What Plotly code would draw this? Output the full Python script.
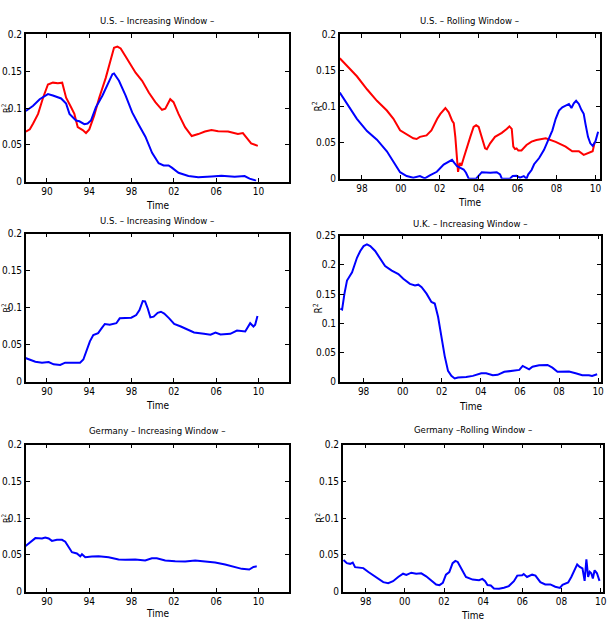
import plotly.graph_objects as go

# ---------------- data ----------------
# Panel 1: U.S. - Increasing Window - (two series)
us_inc_blue_t = [1988.0, 1988.69, 1989.31, 1990.09, 1990.56, 1991.34, 1991.81, 1992.13, 1992.75, 1993.06,
                 1993.53, 1993.84, 1994.16, 1994.63, 1995.25, 1995.88, 1996.19, 1996.34, 1996.81, 1997.44,
                 1998.06, 1998.69, 1999.31, 1999.94, 2000.56, 2001.03, 2001.5, 2001.81, 2002.44, 2003.38,
                 2004.31, 2005.56, 2006.5, 2007.75, 2008.69, 2009.16, 2009.78]
us_inc_blue_v = [0.096, 0.103, 0.112, 0.119, 0.117, 0.113, 0.106, 0.092, 0.083, 0.082,
                 0.078, 0.079, 0.083, 0.101, 0.117, 0.135, 0.146, 0.147, 0.137, 0.117,
                 0.094, 0.077, 0.061, 0.039, 0.025, 0.022, 0.022, 0.019, 0.012, 0.0076,
                 0.006, 0.0071, 0.008, 0.0067, 0.0076, 0.004, 0.0013]
us_inc_red_t = [1988.0, 1988.38, 1988.69, 1989.16, 1989.63, 1990.09, 1990.56, 1991.03, 1991.44, 1991.81,
                1992.28, 1992.59, 1992.91, 1993.38, 1993.69, 1994.0, 1994.47, 1994.94, 1995.56, 1996.03,
                1996.34, 1996.66, 1996.97, 1997.44, 1997.91, 1998.38, 1999.0, 1999.63, 2000.25, 2000.88,
                2001.19, 2001.5, 2001.66, 2001.97, 2002.44, 2003.06, 2003.69, 2004.31, 2004.94, 2005.56,
                2006.19, 2007.13, 2008.06, 2008.53, 2008.84, 2009.31, 2009.94]
us_inc_red_v = [0.068, 0.071, 0.079, 0.092, 0.114, 0.132, 0.1345, 0.1336, 0.1345, 0.114,
                0.101, 0.092, 0.074, 0.070, 0.066, 0.071, 0.090, 0.114, 0.141, 0.168,
                0.182, 0.1835, 0.181, 0.170, 0.159, 0.148, 0.137, 0.121, 0.108, 0.0976,
                0.099, 0.108, 0.112, 0.108, 0.092, 0.074, 0.062, 0.0646, 0.068, 0.070,
                0.0686, 0.068, 0.0646, 0.066, 0.061, 0.052, 0.0486]

# Panel 2: U.S. - Rolling Window - (two series)
us_roll_red_t = [1996.86, 1997.23, 1997.74, 1998.26, 1998.77, 1999.28, 1999.62, 1999.96, 2000.3, 2000.64,
                 2000.81, 2000.98, 2001.32, 2001.57, 2001.87, 2002.03, 2002.29, 2002.46, 2002.63, 2002.72,
                 2002.8, 2002.89, 2002.94, 2003.03, 2003.11, 2003.23, 2003.4, 2003.57, 2003.74, 2003.87,
                 2004.0, 2004.16, 2004.33, 2004.42, 2004.59, 2004.84, 2005.19, 2005.44, 2005.58, 2005.7,
                 2005.78, 2005.87, 2005.95, 2006.04, 2006.2, 2006.46, 2006.72, 2006.97, 2007.45, 2007.96,
                 2008.47, 2008.81, 2009.15, 2009.4, 2009.66, 2009.86, 2009.97]
us_roll_red_v = [0.167, 0.156, 0.142, 0.124, 0.108, 0.0945, 0.083, 0.067, 0.062, 0.056,
                 0.055, 0.058, 0.060, 0.067, 0.083, 0.0898, 0.098, 0.092, 0.0807, 0.077,
                 0.058, 0.026, 0.0095, 0.0218, 0.018, 0.0286, 0.0445, 0.058, 0.0717, 0.074,
                 0.0717, 0.0558, 0.042, 0.0408, 0.049, 0.058, 0.0635, 0.069, 0.0725, 0.069,
                 0.0445, 0.041, 0.042, 0.039, 0.039, 0.0467, 0.0513, 0.0535, 0.056, 0.051,
                 0.0445, 0.038, 0.038, 0.033, 0.0355, 0.038, 0.051]
us_roll_blue_t = [1996.86, 1997.23, 1997.74, 1998.26, 1998.77, 1999.28, 1999.62, 1999.96, 2000.3, 2000.64,
                  2000.98, 2001.23, 2001.49, 2001.85, 2002.2, 2002.46, 2002.63, 2002.75, 2002.89, 2003.06,
                  2003.23, 2003.35, 2003.49, 2003.87, 2004.05, 2004.16, 2004.6, 2004.93, 2005.1, 2005.19,
                  2005.6, 2005.75, 2005.95, 2006.12, 2006.32, 2006.46, 2006.55, 2006.72, 2006.85, 2007.11,
                  2007.36, 2007.62, 2007.79, 2007.96, 2008.13, 2008.3, 2008.47, 2008.64, 2008.77, 2008.89,
                  2009.01, 2009.15, 2009.28, 2009.4, 2009.49, 2009.62, 2009.74, 2009.86, 2010.0, 2010.14]
us_roll_blue_v = [0.1195, 0.104, 0.083, 0.066, 0.054, 0.038, 0.024, 0.009, 0.0036, 0.0014,
                  0.0036, 0.0005, 0.0045, 0.0095, 0.0195, 0.024, 0.026, 0.0218, 0.0172, 0.015,
                  0.0127, 0.0082, 0.0, 0.0, 0.006, 0.009, 0.0082, 0.009, 0.006, 0.0,
                  0.0, 0.0036, 0.004, 0.0014, 0.0036, 0.0, 0.006, 0.012, 0.020, 0.0286,
                  0.040, 0.056, 0.067, 0.083, 0.0945, 0.099, 0.101, 0.1036, 0.098, 0.1045,
                  0.108, 0.1036, 0.0955, 0.090, 0.076, 0.058, 0.049, 0.0455, 0.0514, 0.065]

# Panel 3: U.S. - Increasing Window - (one series)
us_inc2_t = [1987.9, 1988.44, 1988.9, 1989.53, 1990.16, 1990.63, 1991.25, 1991.72, 1992.34, 1993.13,
             1993.44, 1993.75, 1994.06, 1994.38, 1994.84, 1995.16, 1995.47, 1995.94, 1996.56, 1996.88,
             1997.34, 1997.97, 1998.44, 1998.75, 1999.06, 1999.28, 1999.53, 1999.78, 2000.09, 2000.47,
             2000.78, 2001.09, 2001.56, 2002.03, 2002.66, 2003.28, 2003.91, 2004.84, 2005.47, 2005.94,
             2006.41, 2007.34, 2007.97, 2008.75, 2009.22, 2009.53, 2009.69, 2009.91]
us_inc2_v = [0.0324, 0.030, 0.027, 0.0257, 0.0266, 0.0235, 0.0226, 0.0257, 0.0257, 0.0257,
             0.030, 0.041, 0.0545, 0.063, 0.0656, 0.072, 0.078, 0.077, 0.079, 0.0856,
             0.0856, 0.0865, 0.090, 0.0967, 0.109, 0.1086, 0.0989, 0.0869, 0.0878, 0.093,
             0.0945, 0.092, 0.0856, 0.078, 0.0745, 0.070, 0.0665, 0.0647, 0.0634, 0.0665,
             0.0638, 0.0647, 0.069, 0.0678, 0.079, 0.0745, 0.077, 0.0887]

# Panel 4: U.K. - Increasing Window -
uk_inc_t = [1996.81, 1996.9, 1997.02, 1997.15, 1997.41, 1997.66, 1997.83, 1998.0, 1998.17, 1998.34,
            1998.59, 1998.85, 1999.1, 1999.44, 1999.78, 2000.03, 2000.37, 2000.63, 2000.8, 2000.97,
            2001.22, 2001.47, 2001.64, 2001.81, 2001.98, 2002.15, 2002.32, 2002.49, 2002.66, 2002.83,
            2003.25, 2003.59, 2004.02, 2004.27, 2004.61, 2004.86, 2005.2, 2005.63, 2005.97, 2006.14,
            2006.31, 2006.47, 2006.64, 2006.98, 2007.41, 2007.66, 2007.92, 2008.34, 2008.51, 2008.85,
            2009.19, 2009.53, 2009.69, 2009.95]
uk_inc_v = [0.125, 0.1236, 0.1506, 0.173, 0.187, 0.212, 0.2236, 0.232, 0.2348, 0.232,
            0.2236, 0.2095, 0.198, 0.190, 0.184, 0.176, 0.1674, 0.1646, 0.166, 0.1618,
            0.1506, 0.1365, 0.1337, 0.111, 0.0775, 0.0438, 0.0185, 0.010, 0.0056, 0.0073,
            0.0079, 0.010, 0.0146, 0.0146, 0.0112, 0.0118, 0.0169, 0.0185, 0.0202, 0.027,
            0.024, 0.0213, 0.0258, 0.028, 0.0287, 0.024, 0.0169, 0.0169, 0.0174, 0.0146,
            0.0112, 0.0112, 0.010, 0.0129]

# Panel 5: Germany - Increasing Window -
de_inc_t = [1987.89, 1988.43, 1988.9, 1989.53, 1989.84, 1990.16, 1990.47, 1990.94, 1991.42, 1991.73,
            1992.05, 1992.36, 1992.83, 1993.15, 1993.31, 1993.62, 1994.25, 1994.88, 1995.83, 1996.77,
            1997.4, 1998.35, 1999.29, 1999.92, 2000.39, 2001.18, 2002.13, 2003.07, 2004.02, 2004.96,
            2005.91, 2006.85, 2007.64, 2008.43, 2009.13, 2009.53, 2009.84]
de_inc_v = [0.061, 0.067, 0.0728, 0.0723, 0.0737, 0.0723, 0.069, 0.0705, 0.0705, 0.0679,
            0.060, 0.0536, 0.052, 0.048, 0.051, 0.0469, 0.0478, 0.048, 0.0469, 0.0437,
            0.0433, 0.0437, 0.0424, 0.0455, 0.0455, 0.0424, 0.0415, 0.041, 0.0424, 0.0415,
            0.0397, 0.037, 0.0335, 0.031, 0.030, 0.0335, 0.0344]

# Panel 6: Germany - Rolling Window -
de_roll_t = [1996.87, 1997.04, 1997.21, 1997.34, 1997.46, 1997.71, 1997.88, 1998.14, 1998.39, 1998.64,
             1998.9, 1999.15, 1999.4, 1999.66, 1999.91, 2000.08, 2000.33, 2000.58, 2000.84, 2001.09,
             2001.34, 2001.6, 2001.77, 2001.94, 2002.1, 2002.27, 2002.44, 2002.58, 2002.7, 2002.86,
             2003.12, 2003.46, 2003.79, 2003.96, 2004.1, 2004.22, 2004.39, 2004.55, 2004.81, 2005.06,
             2005.31, 2005.57, 2005.74, 2005.99, 2006.07, 2006.24, 2006.5, 2006.67, 2006.92, 2007.17,
             2007.43, 2007.68, 2007.92, 2008.05, 2008.34, 2008.5, 2008.68, 2008.8, 2008.93, 2009.07,
             2009.18, 2009.27, 2009.36, 2009.44, 2009.52, 2009.6, 2009.69, 2009.81, 2009.94]
de_roll_v = [0.0431, 0.0387, 0.0378, 0.0396, 0.0333, 0.0329, 0.032, 0.0267, 0.0222, 0.0173,
             0.0129, 0.0116, 0.0142, 0.020, 0.0244, 0.0227, 0.0258, 0.0244, 0.0249, 0.0209,
             0.0156, 0.0098, 0.0089, 0.012, 0.0231, 0.0267, 0.0387, 0.0418, 0.0404, 0.032,
             0.020, 0.0164, 0.0156, 0.0173, 0.0142, 0.0089, 0.0084, 0.0044, 0.004, 0.0053,
             0.0076, 0.0142, 0.0218, 0.0222, 0.024, 0.020, 0.0231, 0.0218, 0.0129, 0.0098,
             0.0098, 0.0067, 0.005, 0.0093, 0.0124, 0.020, 0.0316, 0.037, 0.0337, 0.0316,
             0.0147, 0.044, 0.020, 0.027, 0.025, 0.018, 0.029, 0.025, 0.0147]

# tick definitions
left_xticks = [1990, 1994, 1998, 2002, 2006, 2010]
left_xlabels = ["90", "94", "98", "02", "06", "10"]
right_xticks = [1998, 2000, 2002, 2004, 2006, 2008, 2010]
right_xlabels = ["98", "00", "02", "04", "06", "08", "10"]
yticks_02 = [0, 0.05, 0.1, 0.15, 0.2]
ylabels_02 = ["0", "0.05", "0.1", "0.15", "0.2"]
yticks_025 = [0, 0.05, 0.1, 0.15, 0.2, 0.25]
ylabels_025 = ["0", "0.05", "0.1", "0.15", "0.2", "0.25"]

titles = ["U.S. \u2013 Increasing Window \u2013", "U.S. \u2013 Rolling Window \u2013",
          "U.S. \u2013 Increasing Window \u2013", "U.K. \u2013 Increasing Window \u2013",
          "Germany \u2013 Increasing Window \u2013", "Germany \u2013Rolling Window \u2013"]

# ---------------- layout geometry (pixels) ----------------
W, H = 612, 632
FONT = "DejaVu Sans Condensed, Liberation Sans, Arial, sans-serif"
BLUE = "#0000ff"
RED = "#ff0000"

panels = [
    dict(box=(26, 291, 29, 179), xr=(1988.0, 2012.9), yr=(0, 0.2), xt=(left_xticks, left_xlabels),
         yt=(yticks_02, ylabels_02), title_y=15, time_y=203, r2_x=6, r2_size=9,
         series=[(us_inc_red_t, us_inc_red_v, RED), (us_inc_blue_t, us_inc_blue_v, BLUE)]),
    dict(box=(342, 604, 29, 176), xr=(1996.86, 2010.24), yr=(0, 0.2), xt=(right_xticks, right_xlabels),
         yt=(yticks_02, ylabels_02), title_y=15, time_y=200, r2_x=319, r2_size=10,
         series=[(us_roll_red_t, us_roll_red_v, RED), (us_roll_blue_t, us_roll_blue_v, BLUE)]),
    dict(box=(26, 291, 232, 383), xr=(1988.0, 2012.9), yr=(0, 0.2), xt=(left_xticks, left_xlabels),
         yt=(yticks_02, ylabels_02), title_y=219, time_y=407, r2_x=6, r2_size=9,
         series=[(us_inc2_t, us_inc2_v, BLUE)]),
    dict(box=(342, 605, 234, 383), xr=(1996.78, 2010.15), yr=(0, 0.25), xt=(right_xticks, right_xlabels),
         yt=(yticks_025, ylabels_025), title_y=222, time_y=408, r2_x=320, r2_size=10,
         series=[(uk_inc_t, uk_inc_v, BLUE)]),
    dict(box=(26, 291, 447, 597), xr=(1988.0, 2012.9), yr=(0, 0.2), xt=(left_xticks, left_xlabels),
         yt=(yticks_02, ylabels_02), title_y=433, time_y=619, r2_x=6, r2_size=9,
         series=[(de_inc_t, de_inc_v, BLUE)]),
    dict(box=(345, 607, 447, 597), xr=(1996.83, 2010.12), yr=(0, 0.2), xt=(right_xticks, right_xlabels),
         yt=(yticks_02, ylabels_02), title_y=432, time_y=621, r2_x=322, r2_size=10,
         series=[(de_roll_t, de_roll_v, BLUE)]),
]

fig = go.Figure()
annotations = []
layout_axes = {}

for i, p in enumerate(panels, start=1):
    x0, x1, y0, y1 = p["box"]
    xa = "x" if i == 1 else f"x{i}"
    ya = "y" if i == 1 else f"y{i}"
    for t, v, c in p["series"]:
        fig.add_trace(go.Scatter(x=t, y=v, mode="lines", xaxis=xa, yaxis=ya,
                                 line=dict(color=c, width=2), showlegend=False, hoverinfo="skip"))
    common = dict(showline=True, linecolor="black", linewidth=1.5, mirror="ticks",
                  ticks="inside", ticklen=4, tickwidth=1, tickcolor="black",
                  showgrid=False, zeroline=False,
                  tickfont=dict(family=FONT, size=10, color="black"))
    layout_axes["xaxis" if i == 1 else f"xaxis{i}"] = dict(
        domain=[x0 / W, x1 / W], range=list(p["xr"]), anchor=ya,
        tickmode="array", tickvals=p["xt"][0], ticktext=p["xt"][1], **common)
    layout_axes["yaxis" if i == 1 else f"yaxis{i}"] = dict(
        domain=[1 - y1 / H, 1 - y0 / H], range=list(p["yr"]), anchor=xa,
        tickmode="array", tickvals=p["yt"][0], ticktext=p["yt"][1], **common)
    cx = (x0 + x1) / 2 / W
    annotations.append(dict(text=titles[i - 1], x=cx, y=1 - p["title_y"] / H, xref="paper", yref="paper",
                            xanchor="center", yanchor="middle", showarrow=False,
                            font=dict(family=FONT, size=9.5, color="black")))
    annotations.append(dict(text="Time", x=cx, y=1 - p["time_y"] / H, xref="paper", yref="paper",
                            xanchor="center", yanchor="middle", showarrow=False,
                            font=dict(family=FONT, size=10, color="black")))
    annotations.append(dict(text="R<sup>2</sup>", x=p["r2_x"] / W, y=1 - (y0 + y1) / 2 / H,
                            xref="paper", yref="paper", xanchor="center", yanchor="middle",
                            textangle=-90, showarrow=False,
                            font=dict(family=FONT, size=p["r2_size"], color="black")))

fig.update_layout(width=W, height=H, margin=dict(l=0, r=0, t=0, b=0),
                  paper_bgcolor="white", plot_bgcolor="white",
                  annotations=annotations, **layout_axes)

fig.write_html("out.html", config={"displayModeBar": False},
               post_script="document.body.style.margin='0px';")
